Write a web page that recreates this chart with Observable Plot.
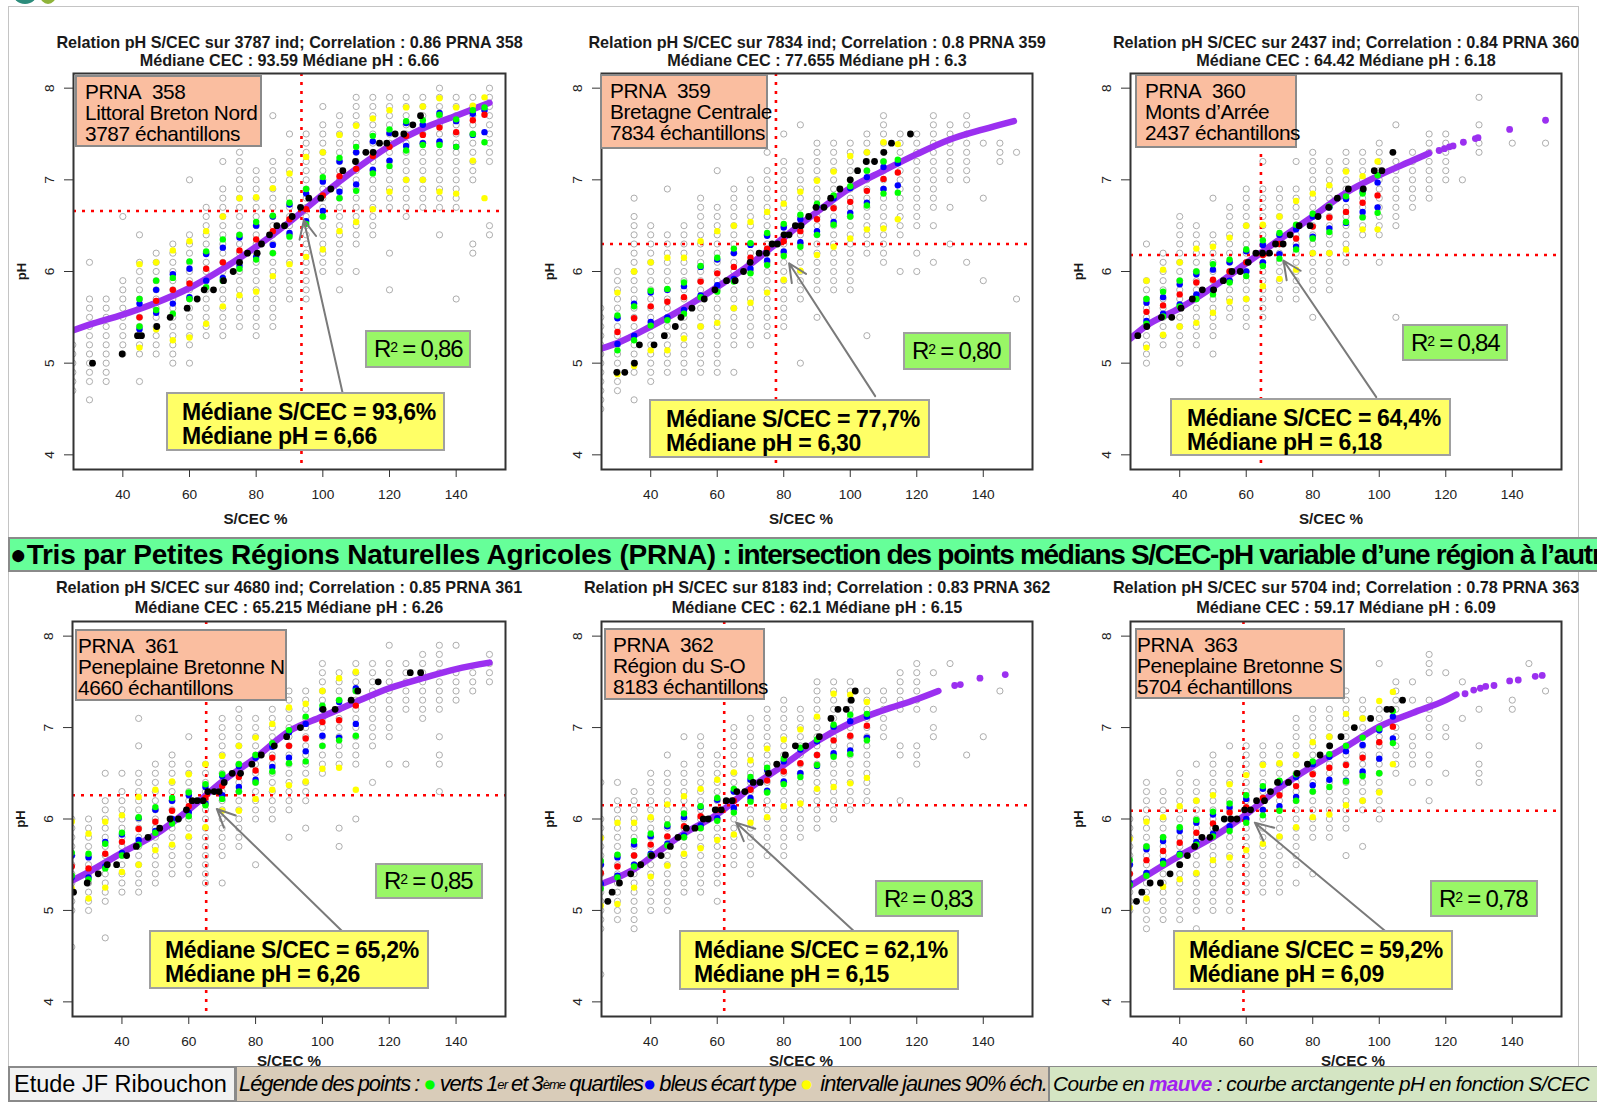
<!DOCTYPE html>
<html><head><meta charset="utf-8">
<script src="https://cdn.jsdelivr.net/npm/d3@7"></script>
<script src="https://cdn.jsdelivr.net/npm/@observablehq/plot@0.6"></script>
<style>
body{margin:0;background:#fff;}
#page{position:relative;width:1597px;height:1109px;overflow:hidden;font-family:"Liberation Sans",Arial,sans-serif;background:#fff;}
.abs{position:absolute;box-sizing:border-box;white-space:nowrap;}
.prna{background:#fabea0;border:2px solid #8a8a8a;font-size:20.8px;line-height:21px;letter-spacing:-0.4px;padding-top:4px;color:#000;}
.r2{background:#99f766;border:2px solid #a0a0a0;font-size:24px;letter-spacing:-1.2px;color:#000;display:flex;align-items:center;padding-left:7px;}
.r2 sup{font-size:14px;line-height:0;position:relative;top:-2px;}
.med{background:#ffff66;border:2px solid #a0a0a0;font-size:23px;font-weight:bold;line-height:24px;letter-spacing:-0.3px;color:#000;padding-top:6px;}
#frame{left:8px;top:6px;width:1571px;height:1062px;border:1.5px solid #c4c4c4;}
#banner{left:8px;top:537px;width:1600px;height:35px;background:#66ff99;border-top:2px solid #8a8a8a;border-bottom:2px solid #8a8a8a;border-left:2px solid #8a8a8a;font-weight:bold;font-size:28px;line-height:31px;overflow:hidden;color:#000;}
#banner .a{letter-spacing:-0.25px;}
#banner .b{letter-spacing:-1.3px;}
.foot{top:1066px;height:36px;border:2px solid #8a8a8a;display:flex;align-items:center;overflow:hidden;color:#000;}
#etude{left:8px;width:228px;background:#f2f2f2;font-size:23.5px;padding-left:4px;}
#leg1{left:236px;width:813px;background:#d9ccb9;font-size:21.9px;font-style:italic;letter-spacing:-1px;word-spacing:-1px;padding-left:2px;border-width:1px;}
#leg2{left:1049px;width:560px;background:#d4e5c3;font-size:20.8px;font-style:italic;letter-spacing:-0.6px;word-spacing:-0.5px;padding-left:3px;border-width:1px;}
sup{font-size:0.6em;}
.logo{position:absolute;border-radius:50%;}
</style></head>
<body><div id="page">
<div class="abs" id="frame"></div>
<div class="logo" style="left:12px;top:-22px;width:26px;height:26px;background:#2c8c7c;"></div>
<div class="logo" style="left:40px;top:-14px;width:16px;height:18px;background:#8fb43a;"></div>
<div class="abs" id="banner"><span class="a">●Tris par Petites Régions Naturelles Agricoles (PRNA)</span><span class="b"> : intersection des points médians S/CEC-pH variable d’une région à l’autre</span></div>
<div class="abs foot" id="etude">Etude JF Ribouchon</div>
<div class="abs foot" id="leg1">Légende des points : <span style="color:#00ff00;font-style:normal">&nbsp;●</span>&nbsp;verts 1<sup>er</sup>&nbsp;et 3<sup>ème</sup>&nbsp;quartiles <span style="color:#0000ff;font-style:normal">●</span>&nbsp;bleus écart type <span style="color:#ffff00;font-style:normal">&nbsp;●</span>&nbsp; intervalle jaunes 90% éch.</div>
<div class="abs foot" id="leg2">Courbe en&nbsp;<b style="color:#a020f0">mauve</b>&nbsp;: courbe arctangente pH en fonction S/CEC</div>
</div>
<script>
// ---------- DATA ----------
const panelIds = ["358","359","360","361","362","363"];
const regionNames = ["Littoral Breton Nord","Bretagne Centrale","Monts d’Arrée","Peneplaine Bretonne N","Région du S-O","Peneplaine Bretonne S"];
const sampleLabels = ["3787 échantillons","7834 échantillons","2437 échantillons","4660 échantillons","8183 échantillons","5704 échantillons"];
const indCounts = [3787, 7834, 2437, 4680, 8183, 5704];
const correlations = ["0.86","0.8","0.84","0.85","0.83","0.78"];
const medianCEC = [93.59, 77.655, 64.42, 65.215, 62.1, 59.17];
const medianPH = [6.66, 6.3, 6.18, 6.26, 6.15, 6.09];
const r2Labels = ["0,86","0,80","0,84","0,85","0,83","0,78"];
const medCECLabels = ["93,6%","77,7%","64,4%","65,2%","62,1%","59,2%"];
const medPHLabels = ["6,66","6,30","6,18","6,26","6,15","6,09"];
const xTicks = [40, 60, 80, 100, 120, 140];
const yTicks = [4, 5, 6, 7, 8];

// grey sample columns: [S/CEC, pH min, pH max] (pH measured in 0.1 steps)
const grey358 = [[25,4.7,5.2],[30,4.8,5.7],[35,4.8,5.7],[40,5.1,5.9],[45,5.1,6.1],[50,5.1,6.2],[55,5.0,6.3],[60,5.2,6.4],[65,5.3,6.7],[70,5.3,6.9],[75,5.4,7.3],[80,5.3,7.1],[85,5.4,7.2],[90,5.7,7.3],[95,5.7,7.5],[100,6.0,7.6],[105,6.0,7.7],[110,6.3,7.9],[115,6.4,7.9],[120,6.7,7.9],[125,6.6,7.9],[130,6.7,7.9],[135,6.7,8.0],[140,6.7,7.9],[145,7.0,7.9],[150,7.2,8.0]];
const greyOut358 = [[30,6.1],[30,4.6],[40,6.6],[45,6.4],[45,4.8],[60,5.0],[60,7.0],[70,7.2],[85,7.7],[90,7.5],[100,7.8],[105,5.8],[110,6.0],[120,6.2],[120,5.8],[135,6.4],[140,5.7],[145,6.3],[145,6.2],[150,6.5],[150,6.4]];
const grey359 = [[25,4.5,5.6],[30,4.7,6.0],[35,4.9,6.6],[40,4.8,6.5],[45,4.9,6.4],[50,4.9,6.5],[55,4.9,6.8],[60,4.9,6.7],[65,5.2,6.9],[70,5.2,7.0],[75,5.3,7.1],[80,5.4,7.2],[85,5.7,7.2],[90,5.8,7.4],[95,5.8,7.4],[100,5.8,7.4],[105,6.2,7.5],[110,6.1,7.7],[115,6.4,7.5],[120,6.5,7.5],[125,6.7,7.7],[130,7.0,7.6],[135,7.0,7.7],[145,7.2,7.4]];
const greyOut359 = [[35,6.8],[35,4.6],[45,6.9],[60,7.1],[65,4.9],[75,7.3],[80,7.5],[85,7.6],[85,5.0],[90,5.5],[105,5.3],[115,6.0],[120,6.2],[120,6.0],[125,6.5],[125,6.1],[130,6.7],[130,6.3],[135,6.1],[140,7.4],[140,6.8],[140,5.9],[150,7.3],[150,5.7]];
const grey360 = [[30,5.0,5.9],[35,5.2,6.2],[40,5.0,6.6],[45,5.2,6.5],[50,5.3,6.4],[55,5.5,6.7],[60,5.4,6.9],[65,5.5,6.9],[70,5.7,6.9],[75,5.7,6.9],[80,5.8,7.3],[85,5.8,7.2],[90,6.1,7.3],[95,6.4,7.3],[100,6.4,7.4],[105,6.5,7.2],[110,6.7,7.3],[115,6.8,7.5],[120,7.0,7.5],[130,7.3,7.4]];
const greyOut360 = [[30,6.3],[50,6.8],[50,5.1],[65,7.2],[75,7.2],[80,5.5],[100,6.1],[105,7.6],[105,5.5],[125,7.0],[130,7.9],[130,7.6],[140,7.4],[150,7.4]];
const grey361 = [[25,5.0,6.0],[30,5.0,6.0],[35,5.1,6.2],[40,5.2,6.3],[45,5.2,6.5],[50,5.3,6.6],[55,5.4,6.7],[60,5.4,6.6],[65,5.3,6.6],[70,5.6,7.1],[75,5.7,7.2],[80,6.0,7.1],[85,6.0,7.2],[90,6.1,7.4],[95,6.2,7.4],[100,6.5,7.7],[105,6.6,7.6],[110,6.6,7.7],[115,6.8,7.7],[120,6.9,7.7],[125,7.2,7.7],[130,7.1,7.8],[135,7.2,7.9],[140,7.3,7.6],[145,7.4,7.6],[150,7.5,7.8]];
const greyOut361 = [[25,4.6],[35,6.5],[35,4.7],[40,6.5],[45,7.1],[45,6.8],[60,6.9],[70,5.3],[80,5.5],[90,5.8],[95,5.9],[105,5.9],[105,5.7],[110,6.0],[115,6.4],[120,7.9],[120,6.6],[125,6.6],[135,6.9],[135,6.7],[135,6.6],[135,6.3],[140,7.9]];
const grey362 = [[25,4.8,6.0],[30,4.9,6.2],[35,4.8,6.3],[40,5.0,6.5],[45,5.0,6.5],[50,5.2,6.6],[55,5.2,6.9],[60,5.3,6.7],[65,5.5,7.0],[70,5.4,7.1],[75,5.6,7.2],[80,5.6,7.3],[85,5.8,7.2],[90,5.9,7.5],[95,6.0,7.5],[100,6.1,7.5],[105,6.2,7.4],[110,6.9,7.4],[115,7.2,7.6],[120,7.2,7.7]];
const greyOut362 = [[25,6.4],[25,4.3],[30,6.4],[45,6.7],[50,6.9],[60,5.1],[115,6.8],[115,6.7],[115,6.2],[120,6.8],[120,6.7],[120,6.6],[125,7.6],[125,7.2],[125,7.0],[125,6.9],[130,7.7],[135,6.7],[140,6.9],[145,7.4]];
const grey363 = [[25,5.0,6.0],[30,4.8,6.4],[35,4.9,6.3],[40,4.9,6.5],[45,5.0,6.4],[50,5.0,6.7],[55,5.0,6.6],[60,5.2,6.8],[65,5.2,6.8],[70,5.2,6.8],[75,5.5,7.1],[80,5.8,7.2],[85,5.8,7.2],[90,5.9,7.4],[95,6.1,7.3],[100,6.0,7.2],[105,6.5,7.5],[110,6.6,6.9],[115,6.9,7.3],[120,6.9,7.0]];
const greyOut363 = [[45,6.6],[45,4.8],[55,6.8],[75,5.3],[80,5.4],[90,5.6],[95,5.7],[100,7.7],[110,7.5],[110,7.3],[110,6.4],[115,7.8],[115,7.7],[115,7.6],[115,6.7],[115,6.6],[115,6.4],[115,6.2],[120,7.6],[120,6.5],[125,7.5],[125,7.1],[130,7.2],[130,6.8],[130,6.6],[130,6.5],[130,6.4],[140,7.3],[140,7.2],[145,7.7],[150,7.4]];

// class statistics: [S/CEC, yellow hi, green hi, blue hi, red (mean), blue lo, green lo, yellow lo]
const stats358 = [[45,6.08,5.70,5.65,5.50,5.37,5.40,5.17],[50,6.10,5.90,5.80,5.68,5.55,5.58,5.37],[55,6.23,5.93,5.97,5.80,5.65,5.54,5.25],[60,6.33,6.11,6.03,5.87,5.72,5.70,5.28],[65,6.44,6.22,6.19,6.03,5.90,5.83,5.43],[70,6.60,6.35,6.26,6.10,5.93,5.90,5.62],[75,6.80,6.40,6.37,6.23,6.06,6.03,5.74],[80,6.81,6.54,6.50,6.35,6.16,6.13,5.78],[85,6.91,6.61,6.60,6.44,6.29,6.20,5.95],[90,7.07,6.75,6.73,6.57,6.42,6.38,6.08],[95,7.25,6.90,6.85,6.68,6.55,6.52,6.16],[100,7.30,7.03,6.98,6.83,6.66,6.60,6.24],[105,7.49,7.24,7.20,7.04,6.87,6.80,6.44],[110,7.59,7.36,7.30,7.12,6.95,6.88,6.54],[115,7.67,7.48,7.42,7.26,7.11,7.07,6.68],[120,7.76,7.55,7.51,7.36,7.21,7.15,6.87],[125,7.79,7.64,7.62,7.48,7.37,7.32,7.00],[130,7.80,7.65,7.60,7.49,7.40,7.38,7.00],[135,7.89,7.71,7.73,7.57,7.42,7.38,6.87],[140,7.79,7.66,7.64,7.52,7.36,7.36,6.85],[145,7.81,7.76,7.72,7.65,7.49,7.50,7.21],[148.5,7.90,7.79,7.76,7.71,7.52,7.41,6.80]];
const stats359 = [[30,5.77,5.52,5.49,5.34,5.21,5.14,4.88],[35,6.00,5.62,5.65,5.49,5.30,5.25,4.97],[40,6.10,5.79,5.77,5.62,5.45,5.41,5.14],[45,6.15,5.81,5.80,5.67,5.50,5.47,5.14],[50,6.15,5.88,5.84,5.72,5.58,5.54,5.27],[55,6.33,6.06,6.05,5.89,5.74,5.72,5.40],[60,6.44,6.15,6.13,5.98,5.85,5.78,5.44],[65,6.50,6.25,6.20,6.05,5.92,5.89,5.60],[70,6.54,6.31,6.29,6.15,6.03,5.98,5.66],[75,6.65,6.42,6.39,6.25,6.12,6.07,5.77],[80,6.74,6.52,6.48,6.33,6.22,6.17,5.91],[85,6.87,6.62,6.57,6.44,6.32,6.27,6.01],[90,6.99,6.74,6.72,6.57,6.44,6.40,6.18],[95,7.09,6.83,6.80,6.69,6.54,6.51,6.27],[100,7.26,6.93,6.91,6.76,6.64,6.60,6.36],[105,7.30,7.10,7.03,6.88,6.75,6.72,6.46],[110,7.41,7.20,7.14,7.01,6.90,6.85,6.47],[114.3,7.39,7.22,7.18,7.08,6.94,6.86,6.57]];
const stats360 = [[30,5.90,5.70,5.66,5.56,5.46,5.43,5.17],[35,6.02,5.78,5.72,5.63,5.54,5.51,5.31],[40,6.10,5.90,5.86,5.75,5.64,5.62,5.40],[45,6.25,6.00,5.97,5.88,5.75,5.70,5.44],[50,6.27,6.08,6.02,5.91,5.80,5.75,5.55],[55,6.37,6.13,6.10,6.00,5.90,5.88,5.67],[60,6.50,6.24,6.22,6.10,6.00,5.95,5.70],[65,6.51,6.34,6.29,6.18,6.10,6.06,5.84],[70,6.60,6.42,6.40,6.30,6.19,6.14,5.92],[75,6.77,6.51,6.46,6.36,6.27,6.24,6.02],[80,6.85,6.63,6.60,6.49,6.38,6.36,6.20],[85,6.94,6.71,6.70,6.59,6.47,6.43,6.20],[90,7.09,6.82,6.79,6.65,6.53,6.54,6.24],[95,7.04,6.85,6.87,6.75,6.65,6.59,6.46],[99.5,7.20,7.05,6.97,6.83,6.70,6.64,6.46]];
const stats361 = [[25,5.97,5.63,5.60,5.48,5.36,5.38,5.24],[30,5.84,5.62,5.58,5.46,5.36,5.34,5.13],[35,5.97,5.73,5.75,5.62,5.48,5.46,5.25],[40,6.04,5.85,5.83,5.75,5.63,5.60,5.42],[45,6.24,6.02,6.01,5.89,5.77,5.72,5.50],[50,6.32,6.13,6.10,5.97,5.87,5.85,5.66],[55,6.41,6.23,6.20,6.09,6.00,5.95,5.72],[60,6.49,6.29,6.26,6.14,6.07,6.03,5.81],[65,6.60,6.38,6.35,6.23,6.17,6.15,5.91],[70,6.69,6.49,6.47,6.36,6.26,6.22,6.09],[75,6.80,6.60,6.58,6.46,6.35,6.30,6.09],[80,6.89,6.70,6.67,6.53,6.43,6.40,6.22],[85,7.04,6.83,6.79,6.67,6.57,6.52,6.32],[90,7.22,6.97,6.95,6.80,6.67,6.61,6.37],[95,7.26,7.12,7.04,6.88,6.74,6.63,6.41],[100,7.40,7.24,7.20,7.06,6.91,6.80,6.55],[105,7.54,7.30,7.28,7.08,6.89,6.86,6.56],[110,7.61,7.40,7.43,7.24,7.04,6.91,6.32]];
const stats362 = [[25,5.79,5.54,5.50,5.41,5.29,5.24,5.05],[30,5.96,5.61,5.58,5.48,5.38,5.36,5.07],[35,5.96,5.76,5.72,5.60,5.50,5.48,5.25],[40,6.02,5.84,5.81,5.72,5.62,5.60,5.37],[45,6.16,5.94,5.92,5.81,5.73,5.71,5.49],[50,6.25,6.06,6.02,5.92,5.82,5.80,5.62],[55,6.33,6.14,6.13,6.03,5.93,5.90,5.68],[60,6.43,6.23,6.21,6.10,6.01,5.98,5.77],[65,6.51,6.33,6.30,6.20,6.12,6.07,5.83],[70,6.64,6.46,6.43,6.32,6.23,6.19,5.96],[75,6.77,6.56,6.54,6.42,6.31,6.29,6.02],[80,6.87,6.66,6.63,6.52,6.41,6.38,6.14],[85,6.98,6.78,6.76,6.61,6.50,6.46,6.17],[90,7.12,6.87,6.85,6.70,6.58,6.59,6.33],[95,7.37,7.03,7.01,6.86,6.72,6.68,6.35],[100,7.36,7.14,7.07,6.91,6.75,6.71,6.39],[105,7.28,7.15,7.12,7.02,6.89,6.86,6.45]];
const stats363 = [[25,5.78,5.55,5.50,5.40,5.30,5.28,5.03],[30,5.97,5.70,5.67,5.55,5.41,5.38,5.13],[35,6.02,5.80,5.76,5.65,5.54,5.51,5.26],[40,6.14,5.91,5.87,5.74,5.62,5.61,5.34],[45,6.20,5.99,5.96,5.85,5.75,5.72,5.41],[50,6.26,6.08,6.05,5.95,5.84,5.81,5.55],[55,6.38,6.17,6.13,6.07,5.92,5.87,5.58],[60,6.48,6.26,6.22,6.13,6.00,5.96,5.66],[65,6.59,6.36,6.33,6.23,6.10,6.04,5.73],[70,6.61,6.42,6.40,6.26,6.14,6.09,5.81],[75,6.70,6.49,6.46,6.36,6.24,6.20,5.91],[80,6.84,6.63,6.60,6.49,6.37,6.30,6.02],[85,6.90,6.71,6.68,6.56,6.43,6.35,6.05],[90,7.15,6.80,6.74,6.59,6.42,6.41,6.15],[95,7.10,6.89,6.81,6.67,6.52,6.47,6.20],[100,7.29,6.99,6.97,6.84,6.66,6.50,6.29],[104.1,7.39,7.18,7.12,7.01,6.88,6.83,6.60]];

// black points (medians by fine class): [S/CEC, pH]
const black358 = [[30.9,5.0],[39.8,5.1],[44.4,5.3],[45.6,5.3],[50.2,5.4],[54.2,5.5],[59.3,5.6],[62.3,5.7],[64.4,5.8],[67.2,5.8],[70.2,5.9],[73.1,6.0],[75.0,6.1],[77.4,6.2],[80.3,6.2],[81.6,6.3],[84.0,6.4],[86.2,6.5],[88.5,6.5],[90.8,6.6],[93.3,6.7],[95.8,6.8],[99.4,6.8],[102.4,6.9],[106.0,7.1],[109.8,7.2],[112.9,7.3],[115.1,7.3],[117.0,7.4],[119.2,7.4],[121.7,7.5],[124.3,7.5],[127.0,7.6],[129.3,7.7]];
const black359 = [[29.8,4.9],[32.2,4.9],[35.1,5.0],[36.6,5.2],[41.0,5.2],[44.1,5.3],[47.4,5.4],[49.1,5.5],[52.4,5.6],[56.1,5.7],[59.3,5.8],[62.8,5.9],[65.4,5.9],[67.9,6.0],[69.9,6.1],[72.6,6.2],[74.8,6.2],[76.5,6.3],[78.1,6.3],[80.1,6.4],[81.6,6.4],[83.5,6.5],[85.2,6.5],[87.5,6.6],[89.7,6.7],[92.1,6.7],[94.1,6.8],[96.9,6.9],[100.0,7.0],[102.2,7.1],[104.8,7.2],[107.3,7.2],[110.1,7.3],[112.4,7.4],[118.1,7.5]];
const black360 = [[27.4,5.3],[30.1,5.4],[34.5,5.5],[37.6,5.5],[40.4,5.6],[43.8,5.7],[46.8,5.8],[50.2,5.8],[53.1,5.9],[55.7,6.0],[58.2,6.0],[60.6,6.1],[62.9,6.2],[64.9,6.2],[67.0,6.2],[68.8,6.3],[71.1,6.3],[73.2,6.4],[75.9,6.5],[79.2,6.5],[81.6,6.6],[84.8,6.7],[87.4,6.8],[90.7,6.9],[95.2,6.9],[98.5,7.1],[100.8,7.1],[104.1,7.3]];
const black361 = [[25.5,5.2],[29.6,5.3],[32.9,5.4],[35.6,5.5],[38.4,5.5],[41.4,5.6],[44.3,5.7],[47.8,5.8],[51.3,5.9],[54.4,6.0],[56.9,6.0],[59.3,6.1],[61.0,6.2],[62.5,6.2],[64.3,6.2],[65.7,6.3],[67.6,6.3],[69.1,6.3],[70.6,6.4],[73.0,6.5],[75.5,6.5],[78.9,6.6],[81.7,6.7],[85.6,6.8],[89.3,6.9],[93.4,7.0],[100.2,7.2],[103.8,7.2],[108.6,7.3],[110.6,7.4],[116.7,7.5],[126.3,7.6],[129.4,7.6]];
const black362 = [[27.1,5.1],[28.4,5.2],[30.6,5.3],[34.0,5.4],[37.0,5.5],[40.3,5.6],[43.1,5.6],[45.9,5.7],[48.2,5.8],[50.7,5.9],[53.3,5.9],[55.8,6.0],[57.3,6.0],[59.4,6.1],[61.2,6.1],[62.7,6.2],[64.5,6.2],[65.9,6.3],[68.3,6.3],[70.8,6.4],[72.9,6.4],[75.4,6.5],[77.9,6.6],[80.5,6.7],[83.5,6.8],[86.6,6.8],[90.7,6.9],[94.2,7.1],[96.3,7.2],[98.8,7.2],[100.3,7.3],[101.5,7.4]];
const black363 = [[27.0,5.1],[28.6,5.2],[31.1,5.3],[34.2,5.3],[37.1,5.4],[40.0,5.5],[42.3,5.6],[44.5,5.7],[46.7,5.8],[49.1,5.8],[50.8,5.9],[53.4,6.0],[55.4,6.0],[57.2,6.0],[59.5,6.1],[61.3,6.1],[63.1,6.2],[65.5,6.2],[67.3,6.3],[69.4,6.4],[72.7,6.4],[75.3,6.5],[78.4,6.6],[82.2,6.7],[85.1,6.8],[88.5,6.9],[92.5,7.0],[97.4,7.1],[102.3,7.2],[103.6,7.2],[107.0,7.3]];

// arctangent fit (mauve): [S/CEC, pH]
const curve358 = [[25.2,5.36],[30,5.42],[40,5.53],[50,5.66],[60,5.82],[70,6.03],[80,6.27],[90,6.54],[100,6.84],[110,7.12],[120,7.37],[130,7.56],[140,7.70],[150,7.84]];
const curve359 = [[25.2,5.16],[30,5.22],[40,5.40],[50,5.60],[60,5.83],[70,6.08],[80,6.37],[90,6.65],[100,6.91],[110,7.10],[120,7.28],[130,7.44],[140,7.55],[149.2,7.64]];
const curve360 = [[25.2,5.27],[30,5.41],[40,5.60],[50,5.83],[60,6.09],[70,6.35],[80,6.60],[90,6.86],[100,7.05],[110,7.21],[115,7.29]];
const curve361 = [[25.2,5.33],[30,5.42],[40,5.63],[50,5.83],[60,6.10],[70,6.41],[80,6.67],[90,6.96],[100,7.12],[110,7.28],[120,7.43],[130,7.54],[140,7.64],[150,7.71]];
const curve362 = [[25.2,5.29],[30,5.36],[35,5.45],[40,5.58],[50,5.84],[60,6.05],[70,6.34],[80,6.59],[90,6.85],[100,7.05],[110,7.19],[120,7.31],[126.5,7.40]];
const curve363 = [[25.2,5.27],[30,5.38],[40,5.60],[50,5.80],[60,6.05],[70,6.34],[80,6.58],[90,6.79],[100,7.01],[110,7.16],[120,7.30],[123.2,7.36]];
const tail358 = [];
const tail359 = [];
const tail360 = [[118.0,7.32],[119.6,7.34],[121.1,7.36],[122.2,7.37],[125.3,7.41],[128.9,7.45],[129.7,7.46],[139.2,7.55],[150.0,7.65]];
const tail361 = [];
const tail362 = [[131.4,7.46],[133.1,7.47],[139.0,7.54],[146.6,7.58]];
const tail363 = [[125.8,7.37],[128.4,7.41],[130.4,7.43],[132.0,7.45],[134.5,7.46],[139.2,7.51],[141.8,7.52],[146.9,7.56],[149.0,7.57]];

// ---------- LAYOUT (page pixels / styles) ----------
const layout = [
  {box:[73,73,432,396], tDy:[-31,-13], tickDy:25, labDx:-34, labDy:50, prna:[75,75,187,72,8], r2:[365,330,106,38], med:[166,392,279,59,14], arrowTail:[105.9,4.68], arrowTip:[94.3,6.56]},
  {box:[601,73,431,396], tDy:[-31,-13], tickDy:25, labDx:-16, labDy:50, prna:[600,74,168,75,8], r2:[903,332,108,38], med:[649,399,281,59,15], arrowTail:[107.5,4.64], arrowTip:[81.6,6.09]},
  {box:[1130,73,431,396], tDy:[-31,-13], tickDy:25, labDx:-15, labDy:50, prna:[1135,74,162,74,8], r2:[1402,324,106,37], med:[1170,398,281,58,15], arrowTail:[99.1,4.63], arrowTip:[71.2,6.12]},
  {box:[72,621,433,395], tDy:[-34,-14], tickDy:25, labDx:0, labDy:45, prna:[75,629,212,72,1], r2:[375,863,108,36], med:[149,930,280,59,14], arrowTail:[105.7,4.78], arrowTip:[68.4,6.11]},
  {box:[601,621,431,395], tDy:[-34,-14], tickDy:25, labDx:-16, labDy:45, prna:[604,628,161,72,7], r2:[875,880,108,37], med:[679,930,280,60,13], arrowTail:[100.9,4.78], arrowTip:[65.7,5.96]},
  {box:[1130,621,431,395], tDy:[-34,-14], tickDy:25, labDx:7, labDy:45, prna:[1135,628,210,71,0], r2:[1430,880,108,37], med:[1173,930,280,60,14], arrowTail:[101.6,4.78], arrowTip:[62.6,5.96]}
];
const xDomain = [25.2, 154.8];
const yDomain = [3.84, 8.16];
const purple = "#9b30f0";

const greys = [grey358, grey359, grey360, grey361, grey362, grey363];
const greyOuts = [greyOut358, greyOut359, greyOut360, greyOut361, greyOut362, greyOut363];
const statsAll = [stats358, stats359, stats360, stats361, stats362, stats363];
const blacks = [black358, black359, black360, black361, black362, black363];
const curves = [curve358, curve359, curve360, curve361, curve362, curve363];
const tails = [tail358, tail359, tail360, tail361, tail362, tail363];

const page = document.getElementById("page");
const X = d => d[0], Y = d => d[1];

panelIds.forEach((id, i) => {
  const L = layout[i];
  const [bl, bt, bw, bh] = L.box;
  const mL = 78, mR = 14, mT = 50, mB = 62;
  const greyPts = [];
  greys[i].forEach(([x, lo, hi]) => {
    for (let k = Math.round(lo * 10); k <= Math.round(hi * 10); k++) greyPts.push([x, k / 10]);
  });
  greyOuts[i].forEach(p => greyPts.push(p));
  const st = statsAll[i];
  const yellow = st.flatMap(s => [[s[0], s[1]], [s[0], s[7]]]);
  const green = st.flatMap(s => [[s[0], s[2]], [s[0], s[6]]]);
  const blue = st.flatMap(s => [[s[0], s[3]], [s[0], s[5]]]);
  const red = st.map(s => [s[0], s[4]]);
  const t1 = `Relation pH S/CEC sur ${indCounts[i]} ind; Correlation : ${correlations[i]} PRNA ${id}`;
  const t2 = `Médiane CEC : ${medianCEC[i]} Médiane pH : ${medianPH[i]}`;

  const svg = Plot.plot({
    width: bw + mL + mR, height: bh + mT + mB,
    marginLeft: mL, marginRight: mR, marginTop: mT, marginBottom: mB,
    x: {domain: xDomain, ticks: xTicks, tickSize: 8, tickFormat: () => "", label: null},
    y: {domain: yDomain, ticks: yTicks, tickSize: 9, tickFormat: () => "", label: null},
    style: {background: "transparent", color: "#333", fontFamily: "'Liberation Sans', Arial, sans-serif", overflow: "visible"},
    marks: [
      Plot.dot(greyPts, {x: X, y: Y, r: 3.1, stroke: "#adadad", strokeWidth: 1, fill: "none", clip: true}),
      Plot.line(curves[i], {x: X, y: Y, stroke: purple, strokeWidth: 6.5, curve: "monotone-x", strokeLinecap: "round", clip: true}),
      Plot.dot(tails[i], {x: X, y: Y, r: 3.4, fill: purple, clip: true}),
      Plot.ruleX([medianCEC[i]], {stroke: "#ff0000", strokeWidth: 2.6, strokeDasharray: "3,6"}),
      Plot.ruleY([medianPH[i]], {stroke: "#ff0000", strokeWidth: 2.6, strokeDasharray: "3,6"}),
      Plot.dot(yellow, {x: X, y: Y, r: 3.2, fill: "#ffff00", clip: true}),
      Plot.dot(blue, {x: X, y: Y, r: 3.2, fill: "#0000ff", clip: true}),
      Plot.dot(green, {x: X, y: Y, r: 3.2, fill: "#00ff00", clip: true}),
      Plot.dot(red, {x: X, y: Y, r: 3.2, fill: "#ff0000", clip: true}),
      Plot.dot(blacks[i], {x: X, y: Y, r: 3.4, fill: "#000000", clip: true}),
      Plot.arrow([0], {x1: () => L.arrowTail[0], y1: () => L.arrowTail[1], x2: () => L.arrowTip[0], y2: () => L.arrowTip[1], stroke: "#7a7a7a", strokeWidth: 2, headLength: 15, headAngle: 50}),
      Plot.frame({stroke: "#333", strokeWidth: 2}),
      Plot.text([t1], {text: d => d, frameAnchor: "top", lineAnchor: "middle", dy: L.tDy[0], fontSize: 16.2, fontWeight: "bold", fill: "#1a1a1a"}),
      Plot.text([t2], {text: d => d, frameAnchor: "top", lineAnchor: "middle", dy: L.tDy[1], fontSize: 16.2, fontWeight: "bold", fill: "#1a1a1a"}),
      Plot.text(xTicks, {x: d => d, text: d => String(d), frameAnchor: "bottom", lineAnchor: "middle", dy: L.tickDy, fontSize: 13.7, fill: "#222"}),
      Plot.text(yTicks, {y: d => d, text: d => String(d), frameAnchor: "left", textAnchor: "middle", lineAnchor: "middle", dx: -24, rotate: -90, fontSize: 13.7, fill: "#222"}),
      Plot.text(["S/CEC %"], {text: d => d, frameAnchor: "bottom", lineAnchor: "middle", dy: L.labDy, dx: L.labDx, fontSize: 15.2, fontWeight: "bold", fill: "#1a1a1a"}),
      Plot.text(["pH"], {text: d => d, frameAnchor: "left", textAnchor: "middle", lineAnchor: "middle", dx: -52, rotate: -90, fontSize: 13, fontWeight: "bold", fill: "#1a1a1a"})
    ]
  });
  svg.style.position = "absolute";
  svg.style.left = (bl - mL) + "px";
  svg.style.top = (bt - mT) + "px";
  page.appendChild(svg);

  const mk = (cls, r, html, pad) => {
    const d = document.createElement("div");
    d.className = "abs " + cls;
    d.style.left = r[0] + "px"; d.style.top = r[1] + "px";
    d.style.width = r[2] + "px"; d.style.height = r[3] + "px";
    if (pad !== undefined) d.style.paddingLeft = pad + "px";
    d.innerHTML = html;
    page.appendChild(d);
  };
  mk("prna", L.prna, `PRNA&nbsp; ${id}<br>${regionNames[i]}<br>${sampleLabels[i]}`, L.prna[4]);
  mk("r2", L.r2, `R<sup>2</sup>&nbsp;= ${r2Labels[i]}`);
  mk("med", L.med, `Médiane S/CEC = ${medCECLabels[i]}<br>Médiane pH = ${medPHLabels[i]}`, L.med[4]);
});
</script>
</body></html>
